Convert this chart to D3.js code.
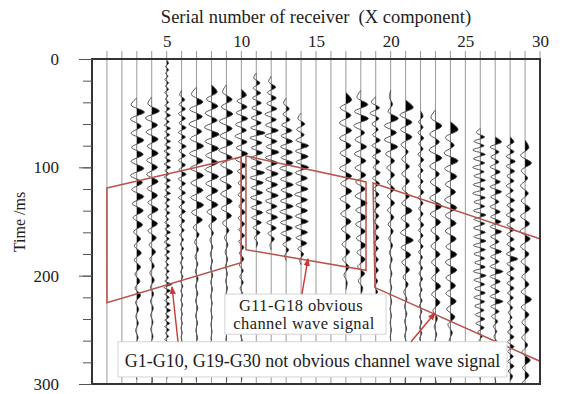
<!DOCTYPE html>
<html>
<head>
<meta charset="utf-8">
<script src="https://cdn.jsdelivr.net/npm/d3@7"></script>
<style>
  body { margin: 0; background: #fff; }
  svg { display: block; }
  text { font-family: "Liberation Serif", "Times New Roman", serif; fill: #222; }
</style>
</head>
<body>
<svg id="chart" width="563" height="394"></svg>
<script>
// Receivers G1..G30 along the line, time axis in ms
const receivers = d3.range(1, 31);
const xTickValues = [5, 10, 15, 20, 25, 30];
const yTickValues = [0, 100, 200, 300];
const yMinorTicks = d3.range(0, 301, 20);

// Per-trace wavetrain: onset time (ms) and spacing (ms) between successive extrema
const traceOnset = [0, 0, 36, 35, 1, 29, 26, 24, 24, 28, 13, 16, 36, 50, 0, 0, 31, 29, 35, 29, 38, 48, 47, 58, 0, 64, 72, 72, 75, 0];
const traceStep  = [0, 0, 6.5, 6.5, 3, 4.3, 6.8, 6.5, 6.7, 5.4, 4.6, 5, 5, 5, 0, 0, 7, 6.5, 5, 6.5, 6.8, 5, 7.4, 7.2, 0, 4, 4.6, 4.5, 7, 0];
// Extrema amplitudes in hundredths of a trace spacing (positive = right, shaded)
const traceAmp = [
  [],
  [],
  [-45,60,-50,35,-45,55,-40,50,-45,55,-50,45,-40,55,-35,50,-30,45,-25,30,-20,35,-20,30,-15,25,-15,30,-10,15,-8,12,-10,10,-8,12,-6,8,-5],
  [-30,60,-50,45,-45,50,-35,50,-40,45,-40,50,-35,45,-30,50,-30,45,-30,35,-20,30,-15,20,-15,20,-10,15,-10,12,-8,10,-8,10,-6,8,-5,6,-4,5],
  [15,-10,15,-8,10,-15,15,-10,15,-15,10,-10,15,
   -15,25,-15,30,-15,20,-20,30,-15,25,-20,30,-15,30,-20,25,-15,30,-20,30,-15,20,-20,30,-15,25,-15,30,-20,25,-15,20,-15,25,
   -10,15,-15,25,-15,30,-15,20,-20,30,-15,25,-15,20,-10,15,-15,20,-10,15,
   -15,40,-20,30,-15,20,-15,25,-15,30,-10,20,-15,25,-15,20,-10,15,-15,20,
   -8,10,-8,15,-8,10,-8,10,-6,8],
  [-15,25,-20,30,-25,30,-20,35,-25,30,-25,35,-20,30,-25,30,-20,35,-25,30,-20,30,-25,25,-20,30,-20,25,
   -15,20,-15,15,-10,15,-10,12,-10,10,-8,10,-8,10,-6,8,-6,8,-5,6,-5,6,-5,5,-4,5,-4,4,-3,4,-3,3,-3,3],
  [-40,50,-55,45,-60,40,-50,55,-55,50,-50,55,-45,50,-45,55,-40,45,-25,20,-15,15,-12,10,-10,12,-8,10,-8,10,-8,8,-6,8,-6,6,-5,5,-4],
  [45,-40,50,-50,45,-55,60,-50,55,-45,50,-50,55,-45,50,-40,50,-35,40,-20,15,-12,10,-10,8,-8,10,-6,8,-6,6,-5,6,-5,5,-4,5,-4,4,-3],
  [-30,45,-40,50,-55,45,-50,50,-60,45,-45,50,-50,40,-45,45,-40,40,-30,20,-15,12,-10,10,-8,8,-6,8,-6,6,-5,5,-4,5,-4,4,-3,3,-3,3],
  [40,-35,45,-40,50,-45,40,-50,45,-40,50,-45,40,-30,30,-25,30,-25,25,-20,30,-25,25,-20,25,-20,20,-15,20,-15,15,-12,15,-10,12,-10,10,-8,10,-8,8,-6,8,-6,6,-5,6,-5,5],
  [-20,30,-25,35,-30,40,-35,45,-40,40,-45,70,-50,45,-40,50,-45,45,-40,65,-50,55,-40,50,-45,45,-40,50,-35,40,-25,30,-15,10],
  [-20,35,-30,40,-35,45,-50,40,-45,55,-50,45,-40,60,-45,50,-40,55,-45,50,-40,55,-45,45,-40,50,-35,40,-25,25,-10],
  [-20,25,-25,30,-35,45,-40,50,-45,50,-40,55,-50,50,-45,55,-40,50,-45,55,-50,50,-45,50,-40,40,-25,20,-10],
  [-25,30,-35,25,-40,60,-45,55,-40,60,-45,50,-40,55,-50,50,-40,50,-45,55,-45,50,-40,45,-25,20,-10],
  [],
  [],
  [45,-45,40,-50,45,-50,40,-45,40,-50,45,-40,45,-45,35,-40,40,-35,35,-30,30,-25,25,-15,10],
  [-30,55,-50,60,-55,30,-45,45,-50,40,-45,40,-40,35,-45,50,-40,45,-40,35,-35,40,-30,35,-25,30,-20,15],
  [-35,30,-45,25,-30,20,-25,35,-30,40,-25,30,-20,35,-25,30,-20,25,-20,30,-15,25,-15,25,-15,25,-15,20,-15,20,-10,20,-10,15,-10,15,-8,10,-5,5],
  [-10,15,-20,60,-50,45,-50,55,-40,30,-30,30,-25,30,-25,30,-25,25,-20,20,-15,15,-10,12,-8,10,-6,8,-5,8,-5,6,-5,6,-4,5,-4,5,-3,4,-3],
  [60,-45,50,-40,50,-35,20,-30,30,-30,30,-25,30,-30,50,-35,30,-40,60,-35,40,-30,30,-20,20,-15,10,-10,10,-8,8,-8,8,-6,6,-5,5,-4],
  [20,-15,20,-20,25,-15,20,-20,25,-15,20,-20,20,-15,25,-20,20,-15,20,-15,25,-15,20,-15,20,-15,15,-12,15,-12,15,-10,12,-10,12,-10,10,-8,10,-8,10,-8,8,-6,8,-6,8,-5,6],
  [-35,50,-45,30,-50,50,-45,30,-40,40,-45,50,-40,40,-35,30,-35,35,-30,30,-30,40,-30,35,-20,15,-10,10,-8,8,-6,6,-5,5],
  [60,-40,30,-50,60,-45,50,-40,40,-45,50,-40,45,-40,45,-35,50,-40,50,-35,40,-35,45,-30,35,-20,15,-10,10,-8,8,-6,6,-5],
  [],
  [-30,35,-50,30,-60,40,-55,35,-60,30,-50,40,-55,35,-60,40,-50,35,-55,45,-50,35,-55,40,-50,45,-55,40,-50,35,-45,40,-55,45,-50,35,-45,40,-50,35,-45,30,-40,35,-35,30,-20,15,-10,10,-8,8,-6,6,-5,5,-4],
  [50,-40,30,-35,30,-40,40,-35,40,-40,50,-35,30,-40,40,-35,45,-40,50,-35,30,-40,50,-35,30,-40,60,-40,40,-35,35,-40,60,-35,30,-30,20,-15,12,-10,10,-8,8,-6,6,-5,5,-4,4],
  [30,-25,30,-30,40,-30,35,-25,30,-30,25,-30,35,-25,30,-30,40,-25,30,-25,30,-25,35,-30,60,-25,30,-25,30,-25,30,-20,25,-20,20,-15,15,-15,20,-20,30,-20,30,-20,25,-20,30,-15,20],
  [30,-35,50,-30,20,-35,25,-30,40,-35,35,-40,40,-35,30,-30,35,-25,30,-30,50,-30,30,-25,30,-25,20,-25,40,-20,30,-20,30],
  []
];

// Outlined zones, vertices as [receiver, ms]
const zoneLeft   = [[1.0, 119], [9.98, 90.5], [9.98, 188], [1.0, 225]];
const zoneMiddle = [[10.31, 89.5], [18.35, 113.5], [18.35, 195], [10.31, 176]];
const zoneRight  = [[18.82, 114.5], [30, 166], [30, 279], [18.95, 211]];

// Callout boxes: [receiver from, receiver to, ms from, ms to]
const noteBoxes = [[8.9, 19.69, 217, 254], [1.74, 27.79, 261, 293.5]];
const noteLines = [
  { r: 14.0, t: 232.4, size: 16.5, text: "G11-G18 obvious" },
  { r: 14.2, t: 249.4, size: 16.5, text: "channel wave signal" },
  { r: 14.77, t: 284.3, size: 18, text: "G1-G10, G19-G30 not obvious channel wave signal" }
];
// Pointers: [from [receiver, ms], to [receiver, ms]]
const pointers = [
  [[5.76, 261], [5.36, 210.5]],
  [[14.06, 217], [14.46, 184.6]],
  [[21.36, 261], [22.97, 234.5]]
];

const svg = d3.select("#chart");
const x = d3.scaleLinear().domain([0, 30]).range([92, 540]);
const y = d3.scaleLinear().domain([0, 300]).range([59, 384]);
const unit = x(1) - x(0);
const gain = 0.85; // wiggle display gain
const defs = svg.append("defs");

defs.append("clipPath").attr("id", "plotClip").append("rect")
  .attr("x", x(0)).attr("y", y(0))
  .attr("width", x(30) - x(0)).attr("height", y(300) - y(0));

defs.append("marker").attr("id", "arrowHead")
  .attr("viewBox", "0 -4 8 8").attr("refX", 7).attr("refY", 0)
  .attr("markerUnits", "userSpaceOnUse").attr("markerWidth", 8).attr("markerHeight", 8)
  .attr("orient", "auto")
  .append("path").attr("d", "M0,-3.2L8,0L0,3.2Z").attr("fill", "#c83a36");

// Trace baselines (they poke above the frame)
svg.append("g").selectAll("line").data(receivers).join("line")
  .attr("x1", d => x(d)).attr("x2", d => x(d))
  .attr("y1", y(0) - 8).attr("y2", y(300))
  .attr("stroke", "#9a9a9a").attr("stroke-width", 1);

// Wiggle traces with shaded positive lobes
const curve = d3.curveCatmullRom.alpha(0.5);
const wig = svg.append("g").attr("clip-path", "url(#plotClip)");
receivers.forEach((r, i) => {
  const amps = traceAmp[i];
  if (!amps.length) return;
  const t0 = traceOnset[i], dt = traceStep[i];
  const pts = [{ t: t0, a: 0 }]
    .concat(amps.map((v, j) => ({ t: t0 + (j + 1) * dt, a: gain * v / 100 })))
    .concat([{ t: t0 + (amps.length + 1) * dt, a: 0 }]);
  const cid = "pos" + r;
  defs.append("clipPath").attr("id", cid).append("rect")
    .attr("x", x(r)).attr("y", y(0))
    .attr("width", unit * 1.5).attr("height", y(300) - y(0));
  const area = d3.area().curve(curve)
    .y(d => y(d.t)).x0(x(r)).x1(d => x(r + d.a));
  wig.append("path").datum(pts).attr("d", area)
    .attr("fill", "#000").attr("clip-path", `url(#${cid})`);
  const line = d3.line().curve(curve).x(d => x(r + d.a)).y(d => y(d.t));
  wig.append("path").datum(pts).attr("d", line)
    .attr("fill", "none").attr("stroke", "#444").attr("stroke-width", 0.9);
});

// Zone outlines
const zoneLine = d3.line().curve(d3.curveLinearClosed).x(d => x(d[0])).y(d => y(d[1]));
svg.append("g").selectAll("path").data([zoneLeft, zoneMiddle, zoneRight]).join("path")
  .attr("d", zoneLine).attr("fill", "none")
  .attr("stroke", "#b8534f").attr("stroke-width", 1.5);

// Callout boxes and text
svg.append("g").selectAll("rect").data(noteBoxes).join("rect")
  .attr("x", d => x(d[0])).attr("y", d => y(d[2]))
  .attr("width", d => x(d[1]) - x(d[0])).attr("height", d => y(d[3]) - y(d[2]))
  .attr("fill", "#fff").attr("stroke", "#d4d4d4").attr("stroke-width", 1);
svg.append("g").selectAll("text").data(noteLines).join("text")
  .attr("x", d => x(d.r)).attr("y", d => y(d.t))
  .attr("text-anchor", "middle").attr("font-size", d => d.size)
  .attr("letter-spacing", d => d.size < 18 ? 0.4 : 0)
  .text(d => d.text);

// Pointer arrows
svg.append("g").selectAll("line").data(pointers).join("line")
  .attr("x1", d => x(d[0][0])).attr("y1", d => y(d[0][1]))
  .attr("x2", d => x(d[1][0])).attr("y2", d => y(d[1][1]))
  .attr("stroke", "#c83a36").attr("stroke-width", 1.4)
  .attr("marker-end", "url(#arrowHead)");

// Frame
svg.append("rect")
  .attr("x", x(0)).attr("y", y(0))
  .attr("width", x(30) - x(0)).attr("height", y(300) - y(0))
  .attr("fill", "none").attr("stroke", "#333").attr("stroke-width", 2);

// Left time axis: minor ticks every 20 ms, labelled ticks every 100 ms
const yMinor = svg.append("g").attr("transform", `translate(${x(0)},0)`)
  .call(d3.axisLeft(y).tickValues(yMinorTicks).tickSize(9).tickFormat(""));
const yMajor = svg.append("g").attr("transform", `translate(${x(0)},0)`)
  .call(d3.axisLeft(y).tickValues(yTickValues).tickSize(13).tickPadding(20));
[yMinor, yMajor].forEach(g => {
  g.select(".domain").remove();
  g.selectAll(".tick line").attr("stroke", "#555").attr("stroke-width", 1);
});
yMajor.selectAll(".tick text")
  .attr("font-family", "'Liberation Serif', serif").attr("font-size", 17).attr("fill", "#222");

// Top receiver axis labels
const xTop = svg.append("g").attr("transform", "translate(0,47)")
  .call(d3.axisTop(x).tickValues(xTickValues).tickSize(0).tickPadding(0));
xTop.select(".domain").remove();
xTop.selectAll(".tick text")
  .attr("font-family", "'Liberation Serif', serif").attr("font-size", 17).attr("fill", "#222");

// Axis titles
svg.append("text").attr("x", 316).attr("y", 23)
  .attr("text-anchor", "middle").attr("font-size", 18.5)
  .style("white-space", "pre")
  .text("Serial number of receiver  (X component)");
svg.append("text")
  .attr("transform", "translate(25,222) rotate(-90)")
  .attr("text-anchor", "middle").attr("font-size", 16)
  .text("Time /ms");
</script>
</body>
</html>
